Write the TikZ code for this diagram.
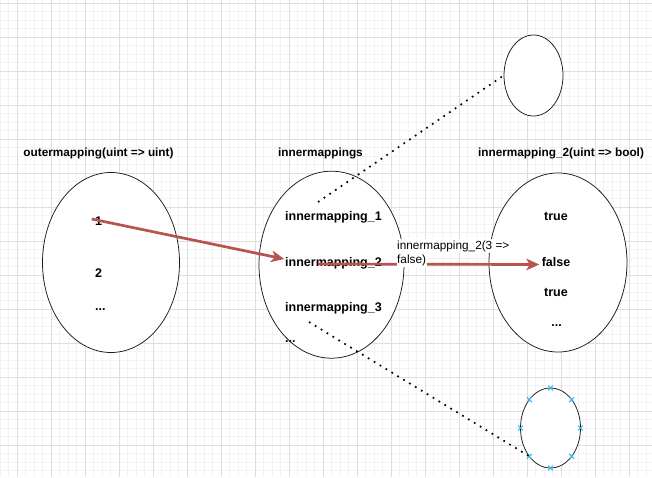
\documentclass[tikz,border=0pt]{standalone}
\usepackage{fontspec}
\setmainfont{Liberation Sans}
\usetikzlibrary{shapes.geometric,arrows.meta}
\definecolor{gridminor}{HTML}{F3F3F3}
\definecolor{gridmajor}{HTML}{DEDEDE}
\definecolor{arrowred}{HTML}{B85450}
\definecolor{handleblue}{HTML}{29B6F2}
\definecolor{ellline}{HTML}{1A1A1A}
\begin{document}
\begin{tikzpicture}[x=1pt,y=-1pt,
  minorline/.style={draw=gridminor,line width=1pt},
  majorline/.style={draw=gridmajor,line width=1pt},
  setell/.style={ellipse,draw=ellline,fill=white,line width=0.75pt,inner sep=0pt},
  titletext/.style={inner sep=0pt,anchor=base,font=\fontsize{11.8}{14}\selectfont\bfseries},
  itemtext/.style={inner sep=0pt,font=\fontsize{12.5}{15}\selectfont\bfseries},
  lbltext/.style={inner xsep=0.5pt,inner ysep=1.5pt,anchor=base west,fill=white,font=\fontsize{11.8}{14}\selectfont},
  mapedge/.style={draw=arrowred,line width=2.7pt,-{Stealth[length=13pt,width=11.5pt,inset=3.5pt]}},
  dotline/.style={draw=black,line width=1.7pt,dash pattern=on 1.7pt off 5.2pt},
  xmark/.style={draw=handleblue,line width=1pt}
]
\useasboundingbox (0,0) rectangle (652,477);
\fill[white] (0,0) rectangle (652,477);
% grid
\foreach \i in {0,...,76} \draw[minorline] ({0.3+8.5*\i},0) -- ({0.3+8.5*\i},477);
\foreach \j in {0,...,55} \draw[minorline] (0,{3.4+8.5*\j}) -- (652,{3.4+8.5*\j});
\foreach \i in {0,...,18} \draw[majorline] ({17.3+34*\i},0) -- ({17.3+34*\i},477);
\foreach \j in {0,...,13} \draw[majorline] (0,{3.4+34*\j}) -- (652,{3.4+34*\j});

% titles
\node[titletext] (t1) at (98.5,156) {outermapping(uint => uint)};
\node[titletext] (t2) at (320.5,156) {innermappings};
\node[titletext] (t3) at (561,156) {innermapping\_2(uint => bool)};

% ellipses
\node[setell,minimum width=137pt,minimum height=180pt] (outer) at (111,262.5) {};
\node[setell,minimum width=145pt,minimum height=187pt] (inner) at (331.5,264.7) {};
\node[setell,minimum width=138pt,minimum height=179pt] (bools) at (558,262.5) {};
\node[setell,minimum width=59pt,minimum height=81pt] (topsmall) at (533.5,75.5) {};
\node[setell,minimum width=60pt,minimum height=80pt] (botsmall) at (550.5,428) {};

% handles on the bottom small ellipse
\foreach \a in {0,45,...,315}
  \draw[xmark] ([shift={({30*cos(\a)},{40*sin(\a)})}]botsmall.center) +(-2.4,-2.4) -- +(2.4,2.4) +(-2.4,2.4) -- +(2.4,-2.4);

% outer items
\node[itemtext,anchor=base west] (o1) at (95,225.2) {1};
\node[itemtext,anchor=base west] (o2) at (95,277.8) {2};
\node[itemtext,anchor=base west] (o3) at (95,310.5) {...};

% inner items
\node[itemtext,anchor=base west] (i1) at (285,220.7) {innermapping\_1};
\node[itemtext,anchor=base west] (i2) at (285,266.7) {innermapping\_2};
\node[itemtext,anchor=base west] (i3) at (285,311.7) {innermapping\_3};
\node[itemtext,anchor=base west] (i4) at (285,342) {...};

% bool items
\node[itemtext,anchor=base] (b1) at (556,220) {true};
\node[itemtext,anchor=base] (b2) at (556,266.7) {false};
\node[itemtext,anchor=base] (b3) at (556,296.7) {true};
\node[itemtext,anchor=base] (b4) at (556.5,326.5) {...};

% dotted connectors
\coordinate (dtop) at (318,202);
\coordinate (dbot) at (309,322);
\coordinate (botpt) at ([shift={(-21.2,28.3)}]botsmall.center);
\draw[dotline] (dtop) -- (topsmall.west);
\draw[dotline] (dbot) -- (botpt);

% arrows
\coordinate (a1s) at (91.7,219);
\coordinate (a1e) at (284.3,259);
\coordinate (a2s) at (318,264);
\coordinate (a2e) at (539.3,264.5);
\draw[mapedge] (a1s) -- (a1e);
\draw[mapedge] (a2s) -- (a2e);

% edge label
\node[lbltext] (lbl1) at (396.5,249.3) {innermapping\_2(3 =>};
\node[lbltext] (lbl2) at (396.5,263) {false)};
\end{tikzpicture}
\end{document}
